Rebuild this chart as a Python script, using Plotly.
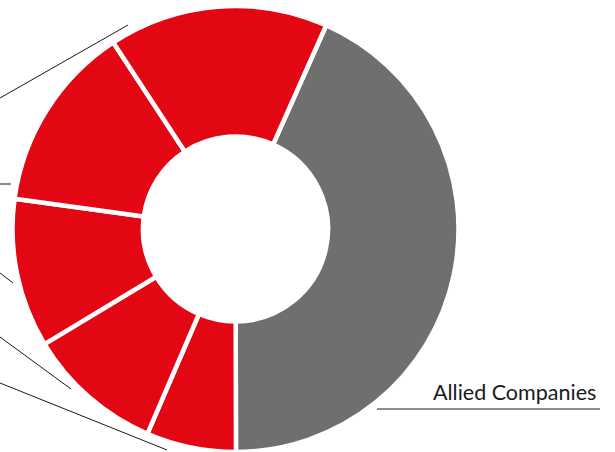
import plotly.graph_objects as go

# ---- data ----
categories = ["Allied Companies", "Segment 1", "Segment 2", "Segment 3", "Segment 4", "Segment 5"]
shares = [43.3, 6.5, 9.9, 10.8, 13.6, 15.9]
slice_colors = ["#6f6f6e", "#e30613", "#e30613", "#e30613", "#e30613", "#e30613"]
label_text = "Allied Companies"

W, H = 615, 452


def px(x):
    return x / W


def py(y):
    return 1 - y / H


fig = go.Figure()
fig.add_trace(go.Pie(
    labels=categories,
    values=shares,
    sort=False,
    direction="clockwise",
    rotation=24,
    hole=0.415,
    textinfo="none",
    marker=dict(colors=slice_colors, line=dict(color="white", width=4.5)),
    domain=dict(x=[px(9.75), px(461.25)], y=[0, 446 / H]),
    showlegend=False,
))

# leader lines (labels lie beyond the left edge of the crop)
leaders = [
    ((0, 98), (128, 25)),
    ((0, 184), (11, 184)),
    ((0, 273), (13, 283)),
    ((0, 337), (71, 389)),
    ((0, 383), (167, 450)),
    ((377, 409), (600, 409)),
]
for (x0, y0), (x1, y1) in leaders:
    fig.add_shape(type="line", xref="paper", yref="paper",
                  x0=px(x0), y0=py(y0), x1=px(x1), y1=py(y1),
                  line=dict(color="#1a1a1a", width=1))

fig.add_annotation(text=label_text, xref="paper", yref="paper",
                   x=px(598), y=py(407), xanchor="right", yanchor="bottom",
                   showarrow=False,
                   font=dict(family="Lato", size=21.5, color="#1a1a1a"))

fig.update_layout(width=W, height=H, margin=dict(l=0, r=0, t=0, b=0),
                  paper_bgcolor="white", plot_bgcolor="white")

fig.write_html("out.html", config={"displayModeBar": False},
               post_script="document.body.style.margin='0';document.body.style.overflow='hidden';")
